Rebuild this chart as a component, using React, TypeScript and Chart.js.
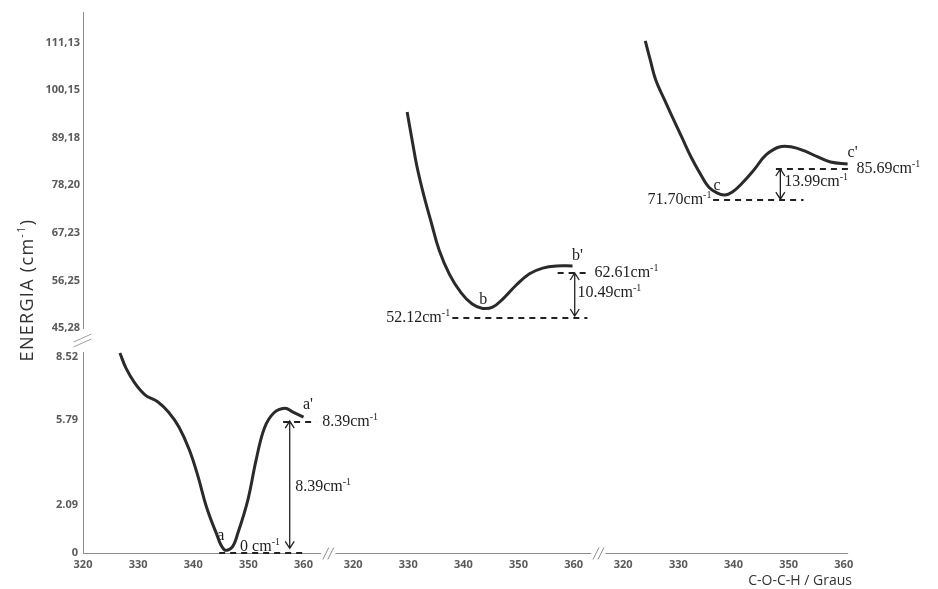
import React, { useEffect, useRef } from 'react';
import { Chart, registerables } from 'chart.js';

Chart.register(...registerables);

// ---------- data ----------
const xTickAngles = [320, 330, 340, 350, 360];

const upperTicks = [45.28, 56.25, 67.23, 78.2, 89.18, 100.15, 111.13];
const upperTickLabels = ['45,28', '56,25', '67,23', '78,20', '89,18', '100,15', '111,13'];
const lowerTicks = [0, 2.09, 5.79, 8.52];
const lowerTickLabels = ['0', '2.09', '5.79', '8.52'];

// curve a (lower energy axis)
const curveAAngles = [326.7, 327.8, 329.4, 331.3, 333.6, 335.5, 337.4, 339.3, 340.9, 342.4, 344.1, 345.6, 347.0, 348.1, 349.9, 351.4, 352.9, 354.6, 356.6, 358.1, 360.0];
const curveAEnergy = [8.7, 8.04, 7.39, 6.87, 6.57, 6.13, 5.48, 4.48, 3.3, 2.0, 0.91, 0.15, 0.24, 0.87, 2.3, 4.04, 5.43, 6.09, 6.3, 6.13, 5.91];
// curve b (upper energy axis)
const curveBAngles = [329.8, 330.7, 331.6, 332.9, 334.2, 335.6, 337.5, 339.6, 341.6, 343.5, 345.3, 347.1, 349.6, 352.0, 354.4, 356.9, 359.8];
const curveBEnergy = [95.13, 88.67, 82.44, 75.51, 69.51, 63.28, 57.6, 53.4, 50.8, 49.8, 50.1, 51.9, 55.2, 57.8, 59.1, 59.59, 59.59];
// curve c (upper energy axis)
const curveCAngles = [324.0, 324.9, 325.9, 327.5, 328.9, 330.6, 332.3, 334.1, 335.5, 337.0, 338.4, 339.8, 341.6, 343.7, 345.9, 348.3, 350.6, 352.9, 355.3, 357.6, 360.7];
const curveCEnergy = [111.52, 107.13, 102.52, 97.9, 93.98, 89.36, 84.74, 80.59, 77.82, 76.44, 75.97, 76.67, 78.74, 81.74, 85.21, 87.05, 87.05, 86.13, 84.74, 83.59, 83.13];

// dashed energy levels
const levelPanel = [0, 0, 1, 1, 2, 2];
const levelEnergy = [0, 5.7, 47.59, 57.97, 74.82, 81.97];
const levelFrom = [344.7, 356.3, 338.0, 357.1, 336.3, 347.7];
const levelTo = [360.4, 362.3, 362.5, 362.9, 352.7, 361.4];

// double arrows
const arrowPanel = [0, 1, 2];
const arrowAngle = [357.5, 360.2, 348.5];
const arrowLow = [0.2, 48.05, 75.0];
const arrowHigh = [5.74, 57.97, 81.97];

// text labels
const labelText = ['a', "a'", '0 cm', '8.39cm', '8.39cm', 'b', "b'", '52.12cm', '62.61cm', '10.49cm', 'c', "c'", '71.70cm', '85.69cm', '13.99cm'];
const labelSup = ['', '', '-1', '-1', '-1', '', '', '-1', '-1', '-1', '', '', '-1', '-1', '-1'];
const labelPanel = [0, 0, 0, 0, 0, 1, 1, 1, 1, 1, 2, 2, 2, 2, 2];
const labelAngle = [345.0, 360.8, 348.5, 358.5, 363.4, 343.6, 360.7, 337.6, 363.8, 360.7, 337.0, 361.6, 336.0, 362.3, 349.2];
const labelEnergy = [0.75, 6.45, 0.26, 2.87, 5.7, 51.9, 61.9, 47.59, 57.97, 53.36, 78.1, 85.67, 74.82, 81.97, 78.97];
const labelAlign = ['center', 'center', 'left', 'left', 'left', 'center', 'center', 'right', 'left', 'left', 'center', 'center', 'right', 'left', 'left'];

const yTitle = 'ENERGIA (cm';
const yTitleSup = '-1';
const xTitle = 'C-O-C-H / Graus';

// ---------- layout helpers ----------
const STRIDE = 49;
const X_MAX = 139.5;
const vOf = (panel: number, angle: number) => panel * STRIDE + (angle - 320);
const axisOf = (panel: number) => (panel === 0 ? 'yLow' : 'yHigh');

function drawSupText(ctx: CanvasRenderingContext2D, x: number, y: number, main: string, sup: string, align: string, font: string, supFont: string, supRise: number) {
  ctx.font = font;
  const w1 = ctx.measureText(main).width;
  ctx.font = supFont;
  const w2 = sup ? ctx.measureText(sup).width : 0;
  const total = w1 + w2;
  const sx = align === 'left' ? x : align === 'right' ? x - total : x - total / 2;
  ctx.textAlign = 'left';
  ctx.textBaseline = 'middle';
  ctx.font = font;
  ctx.fillText(main, sx, y);
  if (sup) {
    ctx.font = supFont;
    ctx.fillText(sup, sx + w1, y - supRise);
  }
}

const decor = {
  id: 'decor',
  afterDraw(chart: any) {
    const ctx: CanvasRenderingContext2D = chart.ctx;
    const xs = chart.scales.x;
    const yl = chart.scales.yLow;
    const yh = chart.scales.yHigh;
    const area = chart.chartArea;
    ctx.save();

    // x axis with breaks
    ctx.strokeStyle = '#8c8c8c';
    ctx.lineWidth = 1;
    ctx.setLineDash([]);
    const yAx = Math.round(area.bottom) + 0.5;
    const b1 = (40 + STRIDE) / 2;
    const b2 = STRIDE + b1;
    const segs = [[0, b1 - 1.3], [b1 + 1.3, b2 - 1.3], [b2 + 1.3, 138.8]];
    segs.forEach(([a, b]) => {
      ctx.beginPath();
      ctx.moveTo(xs.getPixelForValue(a), yAx);
      ctx.lineTo(xs.getPixelForValue(b), yAx);
      ctx.stroke();
    });
    [b1, b2].forEach((b) => {
      const cx = xs.getPixelForValue(b);
      [-2.5, 2.5].forEach((d) => {
        ctx.beginPath();
        ctx.moveTo(cx + d - 3, yAx + 6);
        ctx.lineTo(cx + d + 3, yAx - 6);
        ctx.stroke();
      });
    });

    // y axis with break
    const xAx = Math.round(area.left) + 0.5;
    const upBottom = yh.getPixelForValue(upperTicks[0]) + 1;
    const lowTop = yl.top + 2;
    ctx.beginPath();
    ctx.moveTo(xAx, yh.top);
    ctx.lineTo(xAx, upBottom);
    ctx.moveTo(xAx, lowTop);
    ctx.lineTo(xAx, yl.bottom);
    ctx.stroke();
    const cy = (upBottom + lowTop) / 2;
    ctx.strokeStyle = '#a0a0a0';
    [-2.5, 2.5].forEach((d) => {
      ctx.beginPath();
      ctx.moveTo(xAx - 10, cy + d + 4);
      ctx.lineTo(xAx + 8, cy + d - 4);
      ctx.stroke();
    });

    // y title
    ctx.save();
    ctx.translate(28, 290);
    ctx.rotate(-Math.PI / 2);
    ctx.fillStyle = '#333';
    (ctx as any).letterSpacing = '1.3px';
    const tf = '18px "Open Sans"';
    const sf = '11px "Open Sans"';
    ctx.font = tf;
    const w1 = ctx.measureText(yTitle).width;
    ctx.font = sf;
    const w2 = ctx.measureText(yTitleSup).width;
    ctx.font = tf;
    const w3 = ctx.measureText(')').width;
    const sx = -(w1 + w2 + w3) / 2;
    ctx.textBaseline = 'middle';
    ctx.textAlign = 'left';
    ctx.fillText(yTitle, sx, 0);
    ctx.font = sf;
    ctx.fillText(yTitleSup, sx + w1, -6);
    ctx.font = tf;
    ctx.fillText(')', sx + w1 + w2, 0);
    ctx.restore();

    // dashed levels
    ctx.strokeStyle = '#222';
    ctx.lineWidth = 2;
    ctx.setLineDash([6, 5]);
    levelEnergy.forEach((e, i) => {
      const ys = chart.scales[axisOf(levelPanel[i])];
      const y = ys.getPixelForValue(e);
      ctx.beginPath();
      ctx.moveTo(xs.getPixelForValue(vOf(levelPanel[i], levelFrom[i])), y);
      ctx.lineTo(xs.getPixelForValue(vOf(levelPanel[i], levelTo[i])), y);
      ctx.stroke();
    });
    ctx.setLineDash([]);

    // arrows
    ctx.lineWidth = 1.3;
    ctx.strokeStyle = '#222';
    arrowAngle.forEach((a, i) => {
      const ys = chart.scales[axisOf(arrowPanel[i])];
      const x = xs.getPixelForValue(vOf(arrowPanel[i], a));
      const yt = ys.getPixelForValue(arrowHigh[i]);
      const yb = ys.getPixelForValue(arrowLow[i]);
      ctx.beginPath();
      ctx.moveTo(x, yt);
      ctx.lineTo(x, yb);
      ctx.moveTo(x - 4.5, yt + 7);
      ctx.lineTo(x, yt);
      ctx.lineTo(x + 4.5, yt + 7);
      ctx.moveTo(x - 4.5, yb - 7);
      ctx.lineTo(x, yb);
      ctx.lineTo(x + 4.5, yb - 7);
      ctx.stroke();
    });

    // labels
    ctx.fillStyle = '#1e1e1e';
    labelText.forEach((t, i) => {
      const ys = chart.scales[axisOf(labelPanel[i])];
      const x = xs.getPixelForValue(vOf(labelPanel[i], labelAngle[i]));
      const y = ys.getPixelForValue(labelEnergy[i]);
      drawSupText(ctx, x, y, t, labelSup[i], labelAlign[i], '16px "Liberation Serif"', '10px "Liberation Serif"', 5);
    });

    ctx.restore();
  },
};

export default function App() {
  const ref = useRef<HTMLCanvasElement>(null);
  useEffect(() => {
    const canvas = ref.current!;
    const xTicks: number[] = [];
    for (let p = 0; p < 3; p++) xTickAngles.forEach((a) => xTicks.push(vOf(p, a)));

    const curves = [
      { panel: 0, angles: curveAAngles, energy: curveAEnergy },
      { panel: 1, angles: curveBAngles, energy: curveBEnergy },
      { panel: 2, angles: curveCAngles, energy: curveCEnergy },
    ];

    const tickFont = { family: '"Open Sans"', size: 11, weight: 'bold' as const };

    const chart = new Chart(canvas, {
      type: 'line',
      data: {
        datasets: curves.map((c) => ({
          data: c.angles.map((a, i) => ({ x: vOf(c.panel, a), y: c.energy[i] })),
          yAxisID: axisOf(c.panel),
          borderColor: '#2a2a2a',
          borderWidth: 3,
          pointRadius: 0,
          tension: 0.4,
          fill: false,
        })),
      },
      options: {
        animation: false,
        responsive: true,
        maintainAspectRatio: false,
        layout: { padding: { left: 0, top: 12, right: 86, bottom: 0 } },
        plugins: { legend: { display: false }, tooltip: { enabled: false } },
        scales: {
          x: {
            type: 'linear',
            position: 'bottom',
            min: 0,
            max: X_MAX,
            grid: { display: false, drawTicks: false },
            border: { display: false },
            afterBuildTicks: (s: any) => {
              s.ticks = xTicks.map((v) => ({ value: v }));
            },
            afterFit: (s: any) => {
              s.height = 36;
            },
            ticks: {
              autoSkip: false,
              maxRotation: 0,
              padding: 5,
              color: '#5a5a5a',
              font: tickFont,
              callback: (v: any) => String(Math.round(320 + (Number(v) % STRIDE))),
            },
            title: {
              display: true,
              text: xTitle,
              align: 'end',
              color: '#333',
              font: { family: '"Open Sans"', size: 14 },
              padding: { top: 0, bottom: 0 },
            },
          },
          yLow: {
            type: 'linear',
            position: 'left',
            stack: 'energy',
            stackWeight: 203,
            min: 0,
            max: 8.83,
            grid: { display: false, drawTicks: false },
            border: { display: false },
            afterBuildTicks: (s: any) => {
              s.ticks = lowerTicks.map((v) => ({ value: v }));
            },
            afterFit: (s: any) => {
              s.width = 83;
            },
            ticks: {
              autoSkip: false,
              padding: 5,
              color: '#5a5a5a',
              font: tickFont,
              callback: (_v: any, i: number) => lowerTickLabels[i],
            },
          },
          yHigh: {
            type: 'linear',
            position: 'left',
            stack: 'energy',
            stackWeight: 338,
            min: 40.2,
            max: 118.2,
            grid: { display: false, drawTicks: false },
            border: { display: false },
            afterBuildTicks: (s: any) => {
              s.ticks = upperTicks.map((v) => ({ value: v }));
            },
            afterFit: (s: any) => {
              s.width = 83;
            },
            ticks: {
              autoSkip: false,
              padding: 3,
              color: '#5a5a5a',
              font: tickFont,
              callback: (_v: any, i: number) => upperTickLabels[i],
            },
          },
        },
      } as any,
      plugins: [decor],
    });
    return () => chart.destroy();
  }, []);

  return (
    <div style={{ position: 'fixed', left: 0, top: 0, width: 938, height: 589, background: '#fff' }}>
      <canvas ref={ref} />
    </div>
  );
}
